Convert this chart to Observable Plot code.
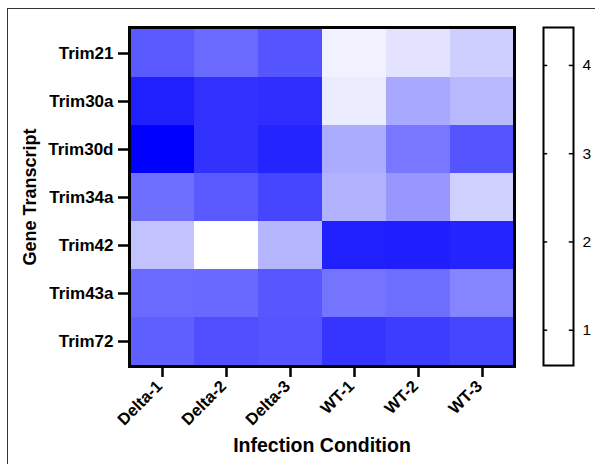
<!DOCTYPE html>
<html>
<head>
<meta charset="utf-8">
<script src="https://cdn.jsdelivr.net/npm/d3@7"></script>
<script src="https://cdn.jsdelivr.net/npm/@observablehq/plot@0.6"></script>
<style>
  html, body { margin: 0; padding: 0; background: #fff; }
  #wrap { position: relative; width: 595px; height: 464px; overflow: hidden; font-family: "Liberation Sans", Arial, sans-serif; }
  #wrap svg { position: absolute; left: 0; top: 0; }
  #outer { position: absolute; left: 7px; top: 8px; width: 600px; height: 470px; border-top: 1.5px solid #333; border-left: 1.5px solid #333; }
</style>
</head>
<body>
<div id="wrap"><div id="outer"></div></div>
<script>
const conditions = ["Delta-1", "Delta-2", "Delta-3", "WT-1", "WT-2", "WT-3"];
const genes = ["Trim21", "Trim30a", "Trim30d", "Trim34a", "Trim42", "Trim43a", "Trim72"];
const trim21  = [1.94, 2.19, 1.87, 4.22, 4.01, 3.70];
const trim30a = [1.08, 1.32, 1.29, 4.15, 3.13, 3.37];
const trim30d = [0.60, 1.35, 1.14, 3.19, 2.39, 1.87];
const trim34a = [2.27, 1.94, 1.63, 3.28, 2.87, 3.73];
const trim42  = [3.52, 4.43, 3.34, 1.08, 1.05, 1.14];
const trim43a = [2.19, 2.18, 1.91, 2.34, 2.27, 2.60];
const trim72  = [2.02, 1.79, 1.87, 1.39, 1.51, 1.63];
const legendTicks = [1, 2, 3, 4];
const legendDomain = [0.6, 4.43];

const rows = [trim21, trim30a, trim30d, trim34a, trim42, trim43a, trim72];
const data = [];
rows.forEach((r, i) => r.forEach((v, j) => data.push({gene: genes[i], condition: conditions[j], value: v})));

const font = "Liberation Sans, Arial, sans-serif";

const main = Plot.plot({
  width: 595, height: 464,
  marginLeft: 129, marginRight: 81, marginTop: 27, marginBottom: 98,
  style: {fontFamily: font, color: "black", background: "transparent"},
  x: {domain: conditions, padding: 0, label: null},
  y: {domain: genes, padding: 0, label: null},
  color: {type: "linear", domain: legendDomain, range: ["#0000ff", "#ffffff"], interpolate: "rgb"},
  marks: [
    Plot.cell(data, {x: "condition", y: "gene", fill: "value"}),
    Plot.axisY({tickSize: 11, tickPadding: 5, strokeWidth: 2.5, stroke: "black", fontSize: 17, fontWeight: "bold", fill: "black", label: null}),
    Plot.axisX({tickSize: 11, text: null, strokeWidth: 2.5, stroke: "black", label: null}),
    Plot.axisX({tickSize: 0, tickPadding: 17, tickRotate: -45, dx: -3, fontSize: 16.5, fontWeight: "bold", fill: "black", label: null}),
    Plot.frame({stroke: "black", strokeWidth: 3}),
    Plot.text(["Gene Transcript"], {frameAnchor: "left", dx: -99, rotate: -90, textAnchor: "middle", fontSize: 18, fontWeight: "bold", fill: "black", lineAnchor: "middle"}),
    Plot.text(["Infection Condition"], {frameAnchor: "bottom", dy: 79, textAnchor: "middle", fontSize: 19.5, fontWeight: "bold", fill: "black", lineAnchor: "middle"})
  ]
});

const legend = Plot.plot({
  width: 595, height: 464,
  marginLeft: 543, marginRight: 22, marginTop: 27, marginBottom: 99,
  style: {fontFamily: font, color: "black", background: "transparent"},
  x: {domain: [0, 1], axis: null},
  y: {domain: legendDomain, axis: null},
  marks: [
    Plot.frame({fill: "white", stroke: "black", strokeWidth: 2}),
    Plot.ruleY(legendTicks, {y: d => d, x1: 0, x2: 0.14, stroke: "black", strokeWidth: 1.5}),
    Plot.ruleY(legendTicks, {y: d => d, x1: 0.86, x2: 1, stroke: "black", strokeWidth: 1.5}),
    Plot.axisY({ticks: legendTicks, tickFormat: "d", anchor: "right", tickSize: 0, tickPadding: 9, fontSize: 15.5, fill: "black", label: null})
  ]
});

const wrap = document.getElementById("wrap");
wrap.appendChild(main);
wrap.appendChild(legend);
</script>
</body>
</html>
